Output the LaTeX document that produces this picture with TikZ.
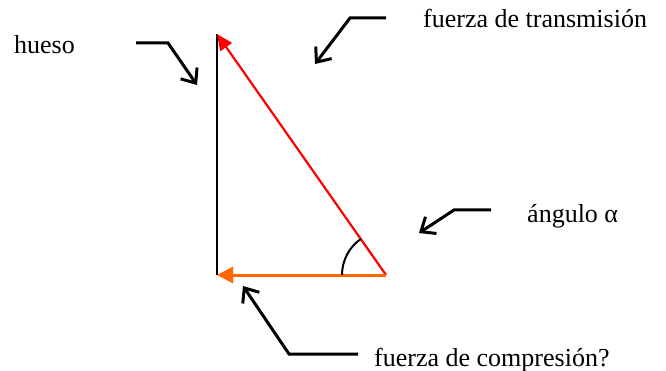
\documentclass[tikz,border=0pt]{standalone}
\usepackage{fontspec}
\setmainfont{Liberation Serif}
\usetikzlibrary{arrows.meta,calc}
\definecolor{vred}{RGB}{255,0,0}
\definecolor{vorange}{RGB}{255,102,0}
\begin{document}
\begin{tikzpicture}[x=1pt,y=-1pt,
  lbl/.style={anchor=base west,inner sep=0pt,font=\fontsize{26}{30}\selectfont},
  pointer/.style={line width=3pt,line join=miter,-{Straight Barb[length=12pt,width=20pt,line width=3pt]}}]
\useasboundingbox (0,0) rectangle (666,371);
% main triangle
\coordinate (top) at (217,34);
\coordinate (corner) at (217,275);
\coordinate (ang) at (386,275);
\draw[line width=2pt] (corner) -- (top);
\draw[vred,line width=2.2pt,-{Triangle[length=16pt,width=14pt]}] (ang) -- (top);
\draw[vorange,line width=3pt,-{Triangle[length=16pt,width=16pt]}] (ang) -- (corner);
\draw[line width=2pt] ($(ang)+(-44,0)$) arc[start angle=180,end angle=235,radius=44];
% labels
\node[lbl] (hueso) at (14,54) {hueso};
\node[lbl] (trans) at (423,28) {fuerza de transmisión};
\node[lbl] (angulo) at (527,223) {ángulo α};
\node[lbl] (comp) at (374,366) {fuerza de compresión?};
% pointers
\coordinate (p1a) at (136,43); \coordinate (p1b) at (168,43); \coordinate (p1c) at (197,85);
\draw[pointer] (p1a) -- (p1b) -- (p1c);
\coordinate (p2a) at (386,18); \coordinate (p2b) at (350,18); \coordinate (p2c) at (315,64);
\draw[pointer] (p2a) -- (p2b) -- (p2c);
\coordinate (p3a) at (491,210); \coordinate (p3b) at (454,210); \coordinate (p3c) at (419,233);
\draw[pointer] (p3a) -- (p3b) -- (p3c);
\coordinate (p4a) at (358,354); \coordinate (p4b) at (289,354); \coordinate (p4c) at (243,286);
\draw[pointer] (p4a) -- (p4b) -- (p4c);
\end{tikzpicture}
\end{document}
